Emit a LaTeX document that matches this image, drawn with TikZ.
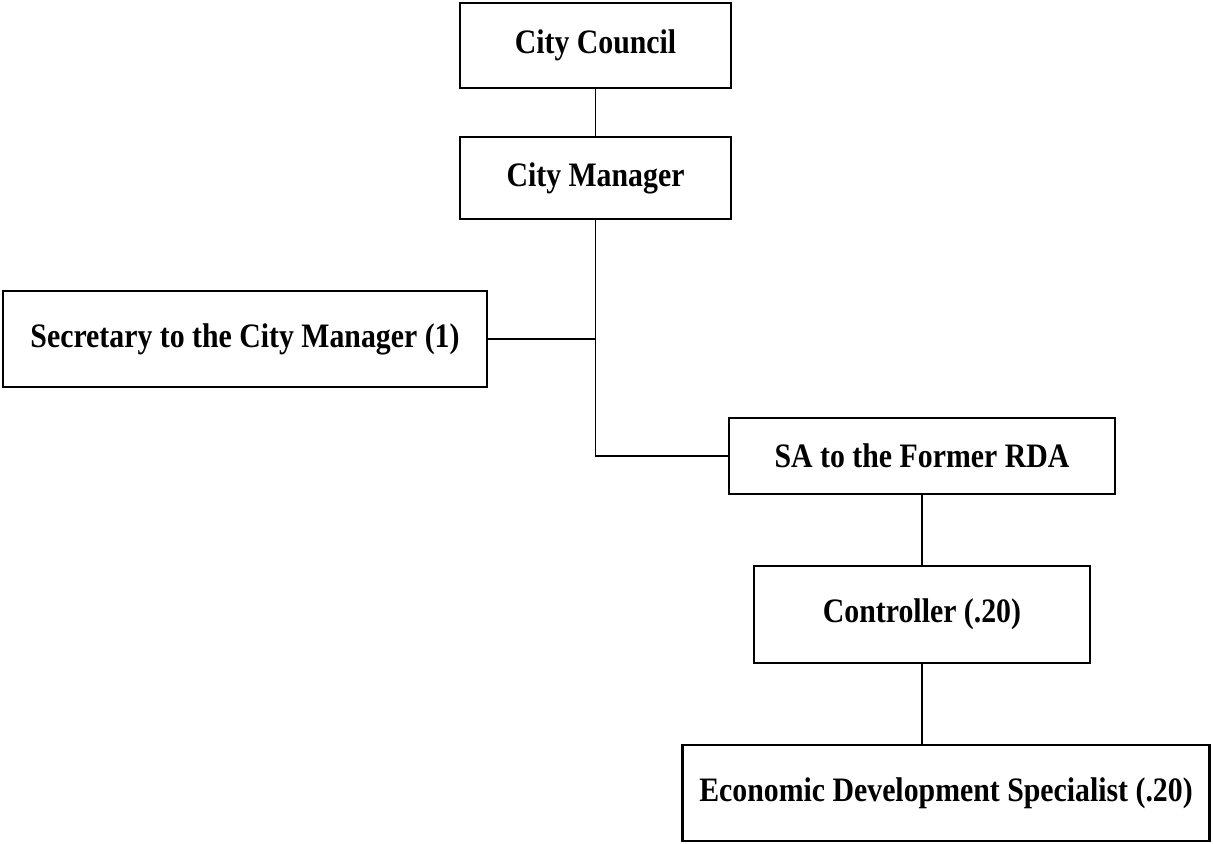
\documentclass[tikz,border=0pt]{standalone}
\usepackage{fontspec}
\setmainfont{Liberation Serif}[FakeStretch=0.87]
\usepackage{tikz}

\tikzset{
  post/.style={draw, line width=1.3pt, inner sep=0pt, align=center,
    font=\fontsize{19.5}{22}\selectfont\bfseries},
  link/.style={line width=1.1pt}
}

\begin{document}
\begin{tikzpicture}[x=0.02cm,y=-0.02cm]
  \useasboundingbox (0,0) rectangle (1213,843);
  \node[post, minimum width=5.42cm, minimum height=1.70cm] (council) at (595.5,45.5) {City Council};
  \node[post, minimum width=5.42cm, minimum height=1.64cm] (manager) at (595.5,178) {City Manager};
  \node[post, minimum width=9.68cm, minimum height=1.92cm] (secretary) at (245,339) {Secretary to the City Manager (1)};
  \node[post, minimum width=7.72cm, minimum height=1.52cm] (sa) at (922,456) {SA to the Former RDA};
  \node[post, minimum width=6.72cm, minimum height=1.94cm] (controller) at (922,614.5) {Controller (.20)};
  \node[post, minimum width=10.54cm, minimum height=1.92cm] (eds) at (946,793) {Economic Development Specialist (.20)};
  \draw[link] (council) -- (manager);
  \draw[link] (manager.south) |- (sa.west);
  \draw[link] (secretary.east) -- (secretary.east -| manager.south);
  \draw[link] (sa) -- (controller);
  \draw[link] (controller.south) -- (controller.south |- eds.north);
\end{tikzpicture}
\end{document}
